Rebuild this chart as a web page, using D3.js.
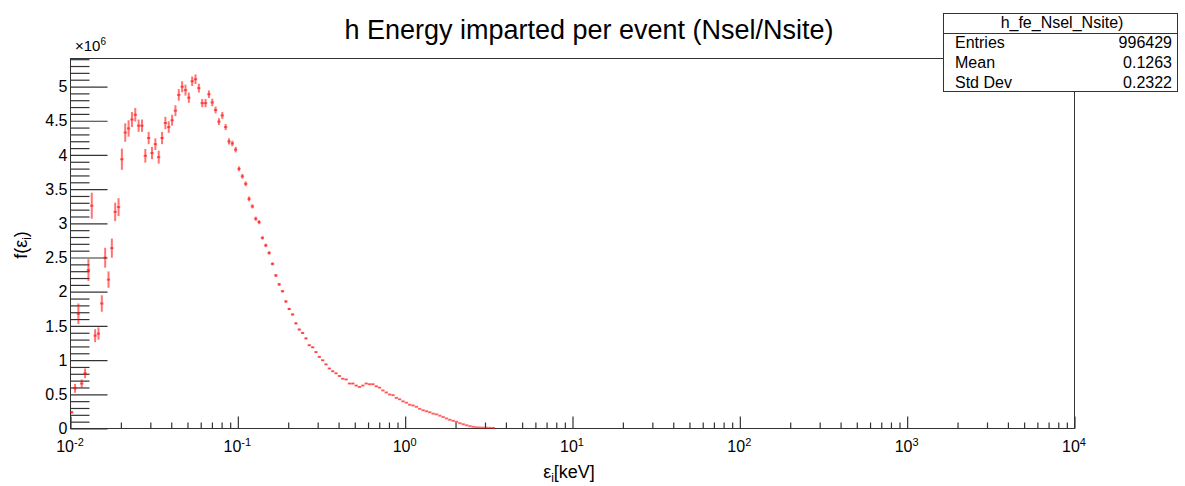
<!DOCTYPE html>
<html><head><meta charset="utf-8">
<script src="https://cdn.jsdelivr.net/npm/d3@7"></script>
<style>
body{margin:0;background:#fff;}
svg{display:block;font-family:"Liberation Sans",Arial,Helvetica,sans-serif;}
</style>
</head><body>
<svg id="c" width="1185" height="486"></svg>
<script>
// ---- data ----
const binsPerDecade = 50;          // log binning of the histogram
const firstBinLow = 0.01;          // keV
// bin contents, units of 10^6
const counts = [
 0.23,0.58,1.67,0.65,0.80,2.31,3.25,1.35,1.38,1.82,
 2.49,2.17,2.63,3.16,3.23,3.93,4.32,4.38,4.51,4.58,
 4.42,4.42,3.98,4.24,4.02,4.15,3.96,4.24,4.46,4.40,
 4.50,4.64,4.87,4.99,4.94,4.83,5.07,5.10,4.97,4.75,
 4.75,4.88,4.76,4.65,4.48,4.57,4.40,4.19,4.16,4.07,
 3.79,3.68,3.57,3.35,3.24,3.06,3.01,2.78,2.67,2.56,
 2.40,2.23,2.10,2.00,1.85,1.74,1.66,1.53,1.44,1.39,
 1.31,1.21,1.18,1.11,1.04,0.99,0.93,0.87,0.83,0.80,
 0.76,0.72,0.71,0.65,0.65,0.62,0.60,0.62,0.65,0.64,
 0.64,0.61,0.59,0.55,0.52,0.49,0.48,0.44,0.42,0.39,
 0.37,0.34,0.33,0.31,0.28,0.26,0.245,0.23,0.21,0.20,
 0.18,0.16,0.14,0.12,0.105,0.09,0.07,0.055,0.04,0.027,
 0.018,0.010,0.008,0.005,0.003,0.002,0.001
];
// bin errors, units of 10^6
const errors = [
 0.02,0.065,0.15,0.06,0.07,0.16,0.19,0.095,0.09,0.12,
 0.145,0.12,0.14,0.135,0.13,0.155,0.135,0.12,0.11,0.10,
 0.09,0.09,0.10,0.09,0.09,0.085,0.095,0.09,0.09,0.085,
 0.08,0.08,0.085,0.08,0.08,0.075,0.07,0.07,0.065,0.06,
 0.06,0.055,0.055,0.05,0.05,0.05,0.045,0.045,0.04,0.04,
 0.035,0.035,0.035,0.035,0.03,0.03,0.03,0.025,0.025,0.025,
 0.022,0.02,0.02,0.018,0.017,0.016,0.015,0.014,0.013,0.012,
 0.011,0.010,0.010,0.009,0.009,0.008,0.008,0.008,0.007,0.007,
 0.007,0.006,0.006,0.006,0.006,0.006,0.005,0.005,0.005,0.005,
 0.005,0.005,0.005,0.004,0.004,0.004,0.004,0.004,0.004,0.004,
 0.003,0.003,0.003,0.003,0.003,0.003,0.003,0.003,0.003,0.002,
 0.002,0.002,0.002,0.002,0.002,0.002,0.002,0.002,0.001,0.001,
 0.001,0.001,0.001,0.001,0.001,0.001,0.001
];
const yMajorTicks = [0,0.5,1,1.5,2,2.5,3,3.5,4,4.5,5];
const yTickLabels = ["0","0.5","1","1.5","2","2.5","3","3.5","4","4.5","5"];
const yMinorTicks = d3.range(0,55).map(d=>d/10).filter(d=>Math.round(d*10)%5!==0);
const xDecades = [-2,-1,0,1,2,3,4];
const xTickMantissas = [2,3,4,5,6,7,8,9];
const titleText = "h Energy imparted per event (Nsel/Nsite)";
const statsTitle = "h_fe_Nsel_Nsite)";
const statsLabels = ["Entries","Mean","Std Dev"];
const statsValues = ["996429","0.1263","0.2322"];

// ---- layout ----
const L=70, R=1074, T=58, B=428;
const svg = d3.select("#c");
const x = d3.scaleLog().domain([1e-2,1e4]).range([L,R]);
const y = d3.scaleLinear().domain([0,5.41]).range([B,T]);
const axisCol = "#333";

// frame
svg.append("rect").attr("x",L+0.5).attr("y",T+0.5).attr("width",R-L).attr("height",B-T)
  .attr("fill","none").attr("stroke",axisCol).attr("stroke-width",1);

// y axis ticks
function styleAxis(g){ g.select(".domain").remove(); g.selectAll("line").attr("stroke",axisCol).attr("stroke-width",1.2); }
svg.append("g").attr("transform",`translate(${L+0.5},0.5)`)
  .call(d3.axisLeft(y).tickValues(yMinorTicks).tickSize(-19).tickFormat(""))
  .call(styleAxis);
svg.append("g").attr("transform",`translate(${L+0.5},0.5)`)
  .call(d3.axisLeft(y).tickValues(yMajorTicks).tickSize(-37).tickPadding(3)
     .tickFormat((d,i)=>yTickLabels[i]))
  .call(styleAxis)
  .call(g=>g.selectAll("text").attr("font-size",16).attr("fill","#000")
     .attr("font-family","Liberation Sans, Arial, sans-serif"));

// x axis ticks
const xMinor = [];
xDecades.slice(0,-1).forEach(k=>xTickMantissas.forEach(m=>xMinor.push(m*Math.pow(10,k))));
const xMajor = xDecades.map(k=>Math.pow(10,k));
svg.append("g").attr("transform",`translate(0.5,${B+0.5})`)
  .call(d3.axisBottom(x).tickValues(xMinor).tickSize(-6).tickFormat(""))
  .call(styleAxis);
svg.append("g").attr("transform",`translate(0.5,${B+0.5})`)
  .call(d3.axisBottom(x).tickValues(xMajor).tickSize(-12).tickFormat(""))
  .call(styleAxis);
// x labels 10^k
xDecades.forEach(k=>{
  const t = svg.append("text").attr("x",x(Math.pow(10,k))).attr("y",452)
    .attr("text-anchor","middle").attr("font-size",16).attr("fill","#000");
  t.append("tspan").text("10");
  t.append("tspan").attr("dy",-6).attr("font-size",11).text(String(k));
});

// axis titles
const xt = svg.append("text").attr("x",569).attr("y",478).attr("text-anchor","middle").attr("font-size",18);
xt.append("tspan").text("ε");
xt.append("tspan").attr("dy",4).attr("font-size",12).text("i");
xt.append("tspan").attr("dy",-4).text("[keV]");
const yt = svg.append("text").attr("transform","translate(27,245) rotate(-90)").attr("text-anchor","middle").attr("font-size",18);
yt.append("tspan").text("f(ε");
yt.append("tspan").attr("dy",4).attr("font-size",12).text("i");
yt.append("tspan").attr("dy",-4).text(")");

// exponent label
const ex = svg.append("text").attr("x",75).attr("y",51).attr("font-size",15);
ex.append("tspan").text("×10");
ex.append("tspan").attr("dy",-6).attr("font-size",10).text("6");

// data: histogram with errors
const bins = counts.map((v,i)=>{
  const lo = firstBinLow*Math.pow(10,i/binsPerDecade);
  const hi = firstBinLow*Math.pow(10,(i+1)/binsPerDecade);
  return {lo,hi,c:(lo+hi)/2,v,e:errors[i]};
});
const dg = svg.append("g").attr("stroke","rgba(255,0,0,0.55)").attr("stroke-width",2);
dg.selectAll("line.h").data(bins).join("line").attr("class","h")
  .attr("x1",d=>x(d.lo)).attr("x2",d=>x(d.hi)).attr("y1",d=>y(d.v)).attr("y2",d=>y(d.v));
dg.selectAll("line.v").data(bins).join("line").attr("class","v")
  .attr("x1",d=>x(d.c)).attr("x2",d=>x(d.c)).attr("y1",d=>y(Math.max(0,d.v-d.e))).attr("y2",d=>y(d.v+d.e));

// title
svg.append("text").attr("x",589).attr("y",39).attr("text-anchor","middle").attr("font-size",27).text(titleText);

// stats box
const sb = svg.append("g");
sb.append("rect").attr("x",943.5).attr("y",13.5).attr("width",234).attr("height",78)
  .attr("fill","#fff").attr("stroke",axisCol).attr("stroke-width",1);
sb.append("line").attr("x1",943.5).attr("x2",1177.5).attr("y1",33.5).attr("y2",33.5).attr("stroke",axisCol);
sb.append("text").attr("x",1062).attr("y",28).attr("text-anchor","middle").attr("font-size",16).text(statsTitle);
statsLabels.forEach((s,i)=>{
  const yy = 48 + i*20;
  sb.append("text").attr("x",955).attr("y",yy).attr("font-size",16).text(s);
  sb.append("text").attr("x",1172).attr("y",yy).attr("text-anchor","end").attr("font-size",16).text(statsValues[i]);
});
</script>
</body></html>
